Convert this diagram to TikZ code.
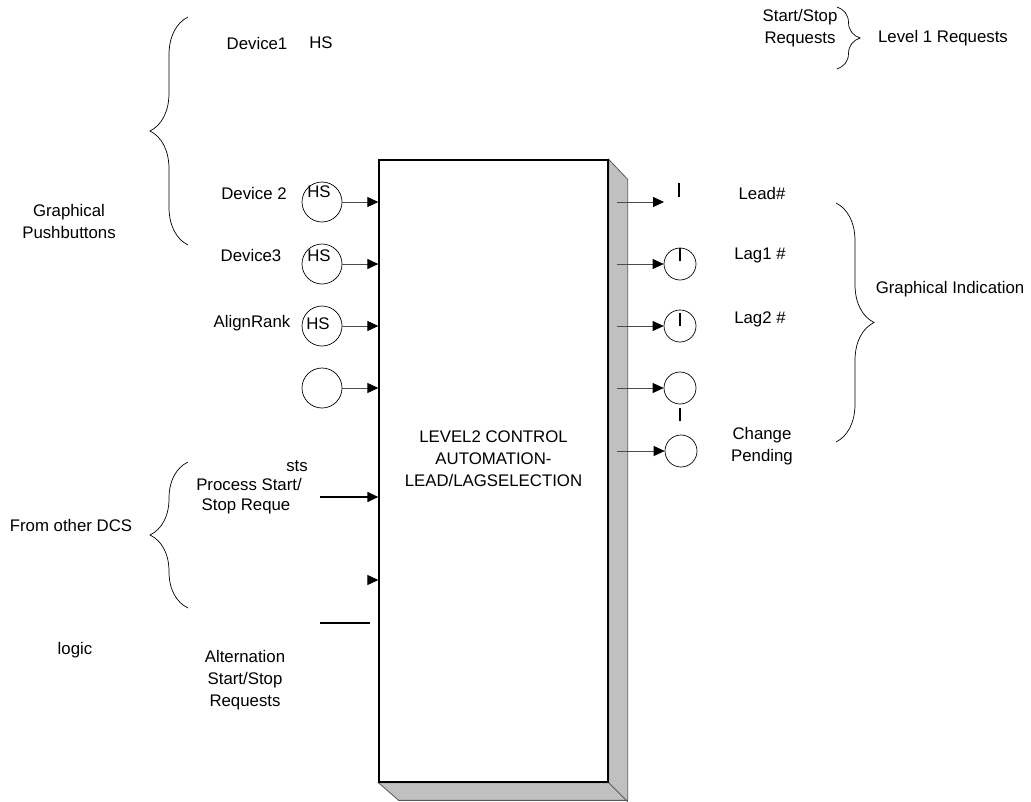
\documentclass[tikz,border=0pt]{standalone}
\usepackage{fontspec}
\setmainfont{Liberation Sans}
\usepackage{tikz}
\usetikzlibrary{arrows.meta,positioning,calc,decorations.pathreplacing}
\definecolor{sidegray}{RGB}{192,192,192}
\newcommand{\lblfont}{\fontsize{16.8}{22}\selectfont}

\begin{document}
\begin{tikzpicture}[x=1pt, y=-1pt,
      lbl/.style={font=\lblfont, align=center, inner sep=0pt},
      ctrlbox/.style={draw, line width=1.3pt, fill=white, minimum width=229pt,
                      minimum height=622pt, inner sep=0pt},
      side/.style={draw=black!65, line width=0.8pt, fill=sidegray},
      hs/.style={circle, draw, line width=0.7pt, minimum size=40pt, inner sep=0pt},
      lamp/.style={circle, draw, line width=0.7pt, minimum size=32pt, inner sep=0pt},
      feed/.style={draw=black!70, line width=0.8pt,
                   -{Triangle[length=11pt,width=10pt,color=black]}},
      bar/.style={line width=1.6pt},
      grp/.style={decorate, decoration={brace, amplitude=#1}, line width=0.7pt},
      grp/.default=38pt]
  \useasboundingbox (0,0) rectangle (1031,801);
  % main block, then its shaded depth faces
  \node[ctrlbox] (ctrl) at (493.5,471) {};
  \filldraw[side] (ctrl.north east) -- ++(19,20) -- ++(0,621) -- ++(-229,0)
    -- (ctrl.south west) -- (ctrl.south east) -- cycle;
  \draw[side] (ctrl.south east) -- ++(19,19);
  \draw[line width=1.3pt] (ctrl.south west) -- (ctrl.south east) -- (ctrl.north east);
  \node[lbl] (ctrltxt) at ([yshift=12pt]ctrl.center)
    {LEVEL2 CONTROL\\AUTOMATION-\\LEAD/LAGSELECTION};
  % graphical pushbuttons on the left
  \node[lbl] (dev1) at (257,43) {Device1};
  \node[lbl] (hs1) at (321,43) {HS};
  \node[hs, label={[lbl,xshift=-3pt,yshift=10pt]center:HS}] (pb2) at (322,202) {};
  \node[hs, label={[lbl,xshift=-3pt,yshift=8pt]center:HS}] (pb3) at (322,264) {};
  \node[hs, label={[lbl,xshift=-4pt,yshift=2pt]center:HS}] (pb4) at (322,326) {};
  \node[hs] (pb5) at (322,388) {};
  \node[lbl] (dev2) at (254,193) {Device 2};
  \node[lbl] (dev3) at (251,255) {Device3};
  \node[lbl] (align) at (252,323) {AlignRank};
  \foreach \b in {pb2,pb3,pb4,pb5}
    \draw[feed] (\b) -- (\b -| ctrl.west);
  \draw[grp] (188,245) -- (188,17);
  \node[lbl] (gpb) at (69,221) {Graphical\\Pushbuttons};
  % requests from other DCS logic
  \node[lbl] (proc1) at (249,484) {Process Start/};
  \node[lbl] (proc2) at (246,506) {Stop Reque};
  \node[lbl] (proc3) at (297,466) {sts};
  \coordinate (procin) at (320,497);
  \draw[feed, draw=black, line width=1.4pt] (procin) -- (procin -| ctrl.west);
  \coordinate (stub) at (370,580);
  \draw[feed] (stub) -- (stub -| ctrl.west);
  \coordinate (altin) at (320,623);
  \coordinate (altend) at (370,623);
  \draw[line width=1.4pt] (altin) -- (altend);
  \draw[grp] (188,608) -- (188,462);
  \node[lbl] (dcs) at (71,525) {From other DCS};
  \node[lbl] (logic) at (75,650) {logic};
  \node[lbl] (alt) at (245,680) {Alternation\\Start/Stop\\Requests};
  % indication outputs on the right
  \foreach \y/\n in {202/o1,264/o2,326/o3,388/o4,451/o5}
    \coordinate (\n) at (617,\y);
  \coordinate (leadend) at (664,202);
  \node[lamp] (lag1) at (680,264) {};
  \node[lamp] (lag2) at (680,326) {};
  \node[lamp] (ind4) at (680,388) {};
  \node[lamp] (chg) at (681,451) {};
  \draw[feed] (o1) -- (leadend);
  \draw[feed] (o2) -- (lag1);
  \draw[feed] (o3) -- (lag2);
  \draw[feed] (o4) -- (ind4);
  \draw[feed] (o5) -- (chg);
  \draw[bar] (leadend) ++(15,-19) -- ++(0,14);
  \draw[bar] (lag1.north) -- ++(0,13);
  \draw[bar] (lag2.center) -- ++(0,-13);
  \draw[bar] ([yshift=-4pt]ind4.south) -- ++(0,13);
  \node[lbl] (lead) at (762,193) {Lead\#};
  \node[lbl] (lag1txt) at (760,255) {Lag1 \#};
  \node[lbl] (lag2txt) at (760,319) {Lag2 \#};
  \node[lbl] (chgtxt) at (762,446) {Change\\Pending};
  \draw[grp] (836,203) -- (836,442);
  \node[lbl] (gind) at (950,289) {Graphical Indication};
  % level 1 requests
  \node[lbl] (ssreq) at (800,28.5) {Start/Stop\\Requests};
  \draw[grp=23pt] (837,7) -- (837,69);
  \node[lbl] (lvl1) at (943,38) {Level 1 Requests};
\end{tikzpicture}
\end{document}
